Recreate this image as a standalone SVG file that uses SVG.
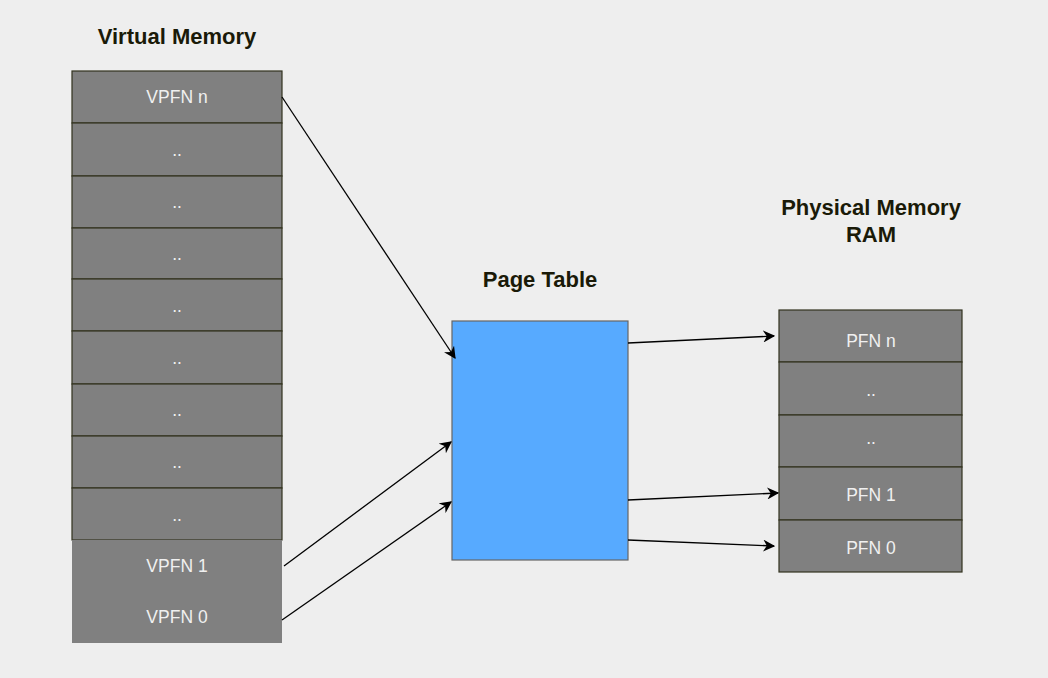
<svg xmlns="http://www.w3.org/2000/svg" width="1048" height="678" viewBox="0 0 1048 678">
<defs>
<style>
.cell{fill:#808080;stroke:#33331f;stroke-width:1.2}
.cellnb{fill:#808080;stroke:none}
.lbl{font-family:"Liberation Sans",Arial,sans-serif;font-size:17.5px;fill:#f0f0f0;text-anchor:middle;dominant-baseline:central}
.title{font-family:"Liberation Sans",Arial,sans-serif;font-size:22px;font-weight:bold;fill:#1a1a08;text-anchor:middle}
.conn{stroke:#000;stroke-width:1.3;fill:none;marker-end:url(#arr)}
</style>
<marker id="arr" viewBox="0 0 10 10" refX="9" refY="5" markerWidth="12" markerHeight="12" markerUnits="userSpaceOnUse" orient="auto">
<path d="M0,0 L10,5 L0,10 L3,5 Z" fill="#000"/>
</marker>
</defs>
<rect width="1048" height="678" fill="#eeeeee"/>
<text class="title" x="177" y="44">Virtual Memory</text>
<text class="title" x="540" y="287">Page Table</text>
<text class="title" x="871" y="215">Physical Memory</text>
<text class="title" x="871" y="242">RAM</text>

<g id="virtual-memory">
<g id="vpfn-n"><rect class="cell" x="72" y="71" width="210" height="52"/><text class="lbl" x="177" y="97">VPFN n</text></g>
<g id="v1"><rect class="cell" x="72" y="123" width="210" height="53"/><text class="lbl" x="177" y="150">..</text></g>
<g id="v2"><rect class="cell" x="72" y="176" width="210" height="52"/><text class="lbl" x="177" y="202">..</text></g>
<g id="v3"><rect class="cell" x="72" y="228" width="210" height="51"/><text class="lbl" x="177" y="254">..</text></g>
<g id="v4"><rect class="cell" x="72" y="279" width="210" height="52"/><text class="lbl" x="177" y="306">..</text></g>
<g id="v5"><rect class="cell" x="72" y="331" width="210" height="53"/><text class="lbl" x="177" y="358">..</text></g>
<g id="v6"><rect class="cell" x="72" y="384" width="210" height="52"/><text class="lbl" x="177" y="410">..</text></g>
<g id="v7"><rect class="cell" x="72" y="436" width="210" height="52"/><text class="lbl" x="177" y="462">..</text></g>
<g id="v8"><rect class="cell" x="72" y="488" width="210" height="52"/><text class="lbl" x="177" y="515">..</text></g>
<g id="vpfn-1"><rect class="cellnb" x="72" y="540" width="210" height="52"/><text class="lbl" x="177" y="566">VPFN 1</text></g>
<g id="vpfn-0"><rect class="cellnb" x="72" y="592" width="210" height="51"/><text class="lbl" x="177" y="617">VPFN 0</text></g>
</g>

<g id="page-table"><rect x="452" y="321" width="176" height="239" fill="#57aaff" stroke="#666666" stroke-width="1.2"/></g>

<g id="physical-memory">
<g id="pfn-n"><rect class="cell" x="779" y="310" width="183" height="52"/><text class="lbl" x="871" y="341">PFN n</text></g>
<g id="p1"><rect class="cell" x="779" y="362" width="183" height="53"/><text class="lbl" x="871" y="390">..</text></g>
<g id="p2"><rect class="cell" x="779" y="415" width="183" height="52"/><text class="lbl" x="871" y="438">..</text></g>
<g id="pfn-1"><rect class="cell" x="779" y="467" width="183" height="53"/><text class="lbl" x="871" y="495">PFN 1</text></g>
<g id="pfn-0"><rect class="cell" x="779" y="520" width="183" height="52"/><text class="lbl" x="871" y="548">PFN 0</text></g>
</g>

<g id="connectors">
<line class="conn" x1="282" y1="97" x2="455" y2="358"/>
<line class="conn" x1="284" y1="566" x2="451" y2="442"/>
<line class="conn" x1="282" y1="620" x2="451" y2="502"/>
<line class="conn" x1="628" y1="343" x2="774" y2="336"/>
<line class="conn" x1="628" y1="500" x2="778" y2="493"/>
<line class="conn" x1="628" y1="540" x2="774" y2="546"/>
</g>
</svg>
